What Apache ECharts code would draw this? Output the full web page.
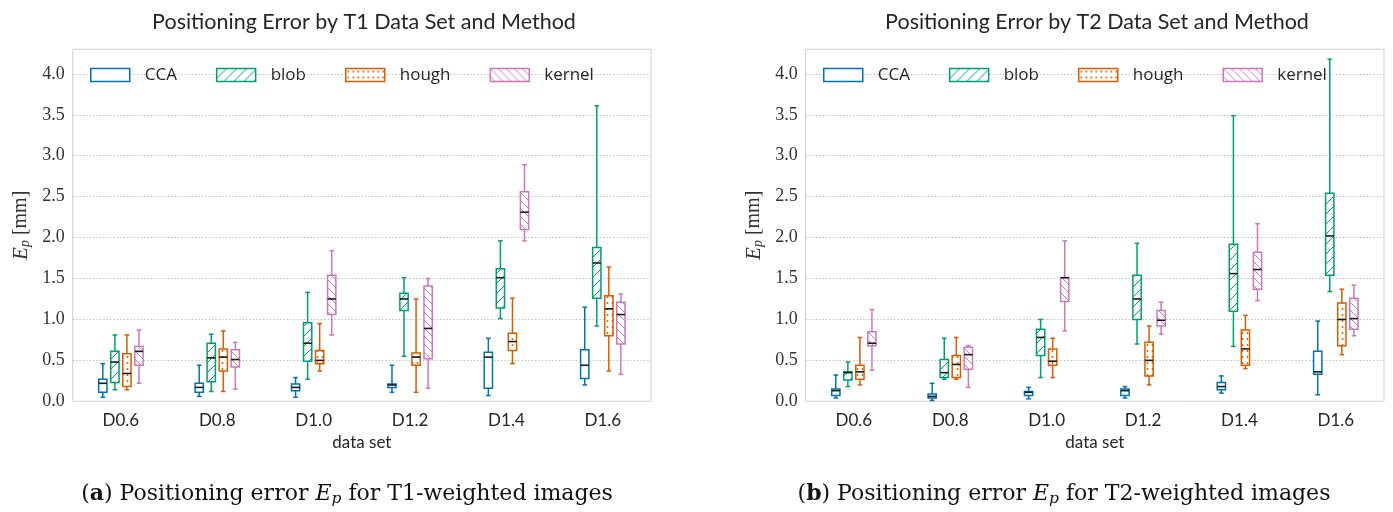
<!DOCTYPE html>
<html><head><meta charset="utf-8">
<script src="https://cdn.jsdelivr.net/npm/echarts@6/dist/echarts.min.js"></script>
<style>html,body{margin:0;padding:0;background:#fff}#c{width:1393px;height:512px}</style>
</head><body><div id="c"></div>
<script>
const categories = ['D0.6', 'D0.8', 'D1.0', 'D1.2', 'D1.4', 'D1.6'];
const methods = ['CCA', 'blob', 'hough', 'kernel'];
const colors = ['#0173b2', '#029e73', '#d55e00', '#cc78bc'];
const chartTitles = ['Positioning Error by T1 Data Set and Method', 'Positioning Error by T2 Data Set and Method'];

// each entry: [lower whisker, Q1, median, Q3, upper whisker] per data set
const t1CCA    = [[0.05,0.11,0.22,0.27,0.46],[0.06,0.11,0.17,0.22,0.44],[0.05,0.13,0.17,0.21,0.29],[0.11,0.17,0.20,0.21,0.44],[0.07,0.16,0.54,0.60,0.77],[0.20,0.28,0.44,0.63,1.15]];
const t1Blob   = [[0.14,0.23,0.48,0.61,0.81],[0.12,0.24,0.53,0.71,0.82],[0.27,0.49,0.71,0.96,1.33],[0.55,1.11,1.25,1.32,1.51],[1.01,1.14,1.51,1.62,1.96],[0.92,1.26,1.69,1.88,3.61]];
const t1Hough  = [[0.14,0.18,0.34,0.58,0.81],[0.12,0.37,0.54,0.64,0.86],[0.37,0.46,0.50,0.62,0.95],[0.11,0.44,0.54,0.59,1.25],[0.46,0.62,0.73,0.83,1.26],[0.37,0.80,1.13,1.29,1.64]];
const t1Kernel = [[0.22,0.44,0.61,0.67,0.87],[0.15,0.42,0.51,0.63,0.72],[0.81,1.06,1.25,1.54,1.84],[0.16,0.52,0.89,1.41,1.50],[1.96,2.10,2.31,2.56,2.89],[0.33,0.70,1.06,1.21,1.31]];

const t2CCA    = [[0.04,0.07,0.13,0.15,0.32],[0.01,0.04,0.06,0.09,0.22],[0.03,0.07,0.11,0.12,0.17],[0.04,0.07,0.13,0.15,0.18],[0.10,0.14,0.18,0.23,0.31],[0.08,0.33,0.36,0.61,0.98]];
const t2Blob   = [[0.18,0.26,0.35,0.36,0.48],[0.27,0.29,0.35,0.51,0.77],[0.29,0.56,0.78,0.88,1.00],[0.70,1.00,1.25,1.54,1.93],[0.67,1.10,1.56,1.92,3.49],[1.34,1.54,2.02,2.54,4.18]];
const t2Hough  = [[0.20,0.27,0.36,0.44,0.78],[0.27,0.29,0.45,0.56,0.78],[0.29,0.44,0.49,0.64,0.77],[0.20,0.31,0.50,0.72,0.92],[0.40,0.44,0.64,0.87,1.05],[0.57,0.68,1.00,1.20,1.37]];
const t2Kernel = [[0.38,0.68,0.71,0.85,1.12],[0.17,0.39,0.57,0.66,0.68],[0.86,1.22,1.51,1.51,1.96],[0.82,0.92,0.99,1.11,1.21],[1.23,1.37,1.61,1.82,2.17],[0.80,0.88,1.01,1.26,1.42]];

const panels = [[t1CCA, t1Blob, t1Hough, t1Kernel], [t2CCA, t2Blob, t2Hough, t2Kernel]];

function makePattern(kind, color) {
  if (kind === 'none') return '#ffffff';
  const cv = document.createElement('canvas');
  let w = 10, h = 10;
  if (kind === 'back') { w = 8; h = 8; }
  if (kind === 'dots') { w = 5; h = 6; }
  cv.width = w; cv.height = h;
  const g = cv.getContext('2d');
  g.fillStyle = '#ffffff'; g.fillRect(0, 0, w, h);
  g.strokeStyle = color; g.fillStyle = color; g.lineWidth = 1;
  g.beginPath();
  if (kind === 'slash') {
    g.moveTo(-1, h + 1); g.lineTo(w + 1, -1);
    g.moveTo(-1, 1); g.lineTo(1, -1);
    g.moveTo(w - 1, h + 1); g.lineTo(w + 1, h - 1);
    g.stroke();
  } else if (kind === 'back') {
    g.moveTo(-1, -1); g.lineTo(w + 1, h + 1);
    g.moveTo(w - 1, -1); g.lineTo(w + 1, 1);
    g.moveTo(-1, h - 1); g.lineTo(1, h + 1);
    g.stroke();
  } else if (kind === 'dots') {
    g.arc(2.5, 3, 1.0, 0, Math.PI * 2); g.fill();
  }
  return { image: cv, repeat: 'repeat' };
}
const patternKinds = ['none', 'slash', 'dots', 'back'];
const fills = methods.map((m, i) => makePattern(patternKinds[i], colors[i]));

function makeRender(idx) {
  const color = colors[idx];
  const fill = fills[idx];
  return function (params, api) {
    const c = api.value(0);
    const band = api.size([1, 0])[0];
    const cx = api.coord([c, 0])[0] + (idx - 1.5) * band * 0.125;
    const bw = band * 0.086;
    const y = [1, 2, 3, 4, 5].map(i => api.coord([c, api.value(i)])[1]);
    const cap = bw * 0.28;
    const ls = { stroke: color, lineWidth: 1.5 };
    return {
      type: 'group',
      children: [
        { type: 'line', shape: { x1: cx, y1: y[0], x2: cx, y2: y[1] }, style: ls },
        { type: 'line', shape: { x1: cx, y1: y[3], x2: cx, y2: y[4] }, style: ls },
        { type: 'line', shape: { x1: cx - cap, y1: y[0], x2: cx + cap, y2: y[0] }, style: ls },
        { type: 'line', shape: { x1: cx - cap, y1: y[4], x2: cx + cap, y2: y[4] }, style: ls },
        { type: 'rect', shape: { x: cx - bw / 2, y: y[3], width: bw, height: y[1] - y[3] },
          style: { fill: fill, stroke: color, lineWidth: 1.5 } },
        { type: 'line', shape: { x1: cx - bw / 2, y1: y[2], x2: cx + bw / 2, y2: y[2] },
          style: { stroke: '#1a1a1a', lineWidth: 1.6 } }
      ]
    };
  };
}

const gridLefts = [72.7, 805.7];
const grids = gridLefts.map(l => ({
  left: l, top: 49.3, width: 578.3, height: 352,
  show: true, borderColor: '#d0d0d0', borderWidth: 1, backgroundColor: 'transparent'
}));

const xAxes = [0, 1].map(g => ({
  gridIndex: g, type: 'category', data: categories,
  axisLine: { show: false }, axisTick: { show: false }, splitLine: { show: false },
  axisLabel: { fontFamily: 'Lato', fontSize: 17, color: '#262626', margin: 11 },
  name: 'data set', nameLocation: 'middle', nameGap: 32,
  nameTextStyle: { fontFamily: 'Lato', fontSize: 17, color: '#262626' }
}));

const yAxes = [0, 1].map(g => ({
  gridIndex: g, type: 'value', min: 0, max: 4.3, interval: 0.5,
  axisLine: { show: false }, axisTick: { show: false },
  axisLabel: { fontFamily: 'Liberation Serif', fontSize: 18, color: '#333333', margin: 8,
    showMaxLabel: false, formatter: v => v.toFixed(1) },
  splitLine: { show: true, showMaxLine: false, showMinLine: false,
    lineStyle: { type: [1.2, 2.2], color: '#b5b5b5', width: 1 } },
  name: '{e|E}{p|p}{t| [mm]}', nameLocation: 'middle', nameGap: 40, nameRotate: 90,
  nameTextStyle: {
    fontFamily: 'Liberation Serif', fontSize: 20, color: '#333333',
    rich: {
      e: { fontFamily: 'Liberation Serif', fontStyle: 'italic', fontSize: 21, color: '#333333' },
      p: { fontFamily: 'Liberation Serif', fontStyle: 'italic', fontSize: 14, color: '#333333', padding: [9, 0, 0, 0] },
      t: { fontFamily: 'Liberation Serif', fontSize: 20, color: '#333333' }
    }
  }
}));

const series = [];
panels.forEach((sets, g) => {
  sets.forEach((arr, i) => {
    series.push({
      type: 'custom', name: methods[i], xAxisIndex: g, yAxisIndex: g,
      itemStyle: { color: fills[i], borderColor: colors[i], borderWidth: 1.5 },
      encode: { x: 0, y: [1, 2, 3, 4, 5] },
      data: arr.map((v, c) => [c].concat(v)),
      renderItem: makeRender(i),
      clip: false, z: 3
    });
  });
});

const legends = [90, 823].map(l => ({
  left: l, top: 66.5, padding: 0, orient: 'horizontal', itemWidth: 39, itemHeight: 13, itemGap: 39,
  selectedMode: false,
  textStyle: { fontFamily: 'Open Sans', fontSize: 17, color: '#262626', padding: [0, 0, 0, 10] },
  data: methods.map((m, i) => ({ name: m, icon: 'rect',
    itemStyle: { color: fills[i], borderColor: colors[i], borderWidth: 1.5 } }))
}));

const capFont = 'DejaVu Serif';
const capRich = {
  b: { fontFamily: capFont, fontSize: 22, fontWeight: 'bold', fill: '#111' },
  i: { fontFamily: capFont, fontSize: 22, fontStyle: 'italic', fill: '#111' },
  s: { fontFamily: capFont, fontSize: 15.5, fontStyle: 'italic', fill: '#111', padding: [10, 0, 0, 0] },
  n: { fontFamily: capFont, fontSize: 22, fill: '#111' }
};
const graphics = [
  { type: 'text', x: 364, y: 22, style: { text: chartTitles[0], fontFamily: 'Lato', fontSize: 21.5, fill: '#262626', align: 'center', verticalAlign: 'middle' } },
  { type: 'text', x: 1097, y: 22, style: { text: chartTitles[1], fontFamily: 'Lato', fontSize: 21.5, fill: '#262626', align: 'center', verticalAlign: 'middle' } },
  { type: 'text', x: 347, y: 494, style: { text: '{n|(}{b|a}{n|) Positioning error }{i|E}{s|p}{n| for T1-weighted images}', rich: capRich, align: 'center', verticalAlign: 'middle' } },
  { type: 'text', x: 1064, y: 494, style: { text: '{n|(}{b|b}{n|) Positioning error }{i|E}{s|p}{n| for T2-weighted images}', rich: capRich, align: 'center', verticalAlign: 'middle' } }
];

const chart = echarts.init(document.getElementById('c'), null, { renderer: 'canvas' });
chart.setOption({
  animation: false,
  backgroundColor: '#ffffff',
  grid: grids, xAxis: xAxes, yAxis: yAxes, legend: legends, series: series, graphic: graphics
});
</script></body></html>
